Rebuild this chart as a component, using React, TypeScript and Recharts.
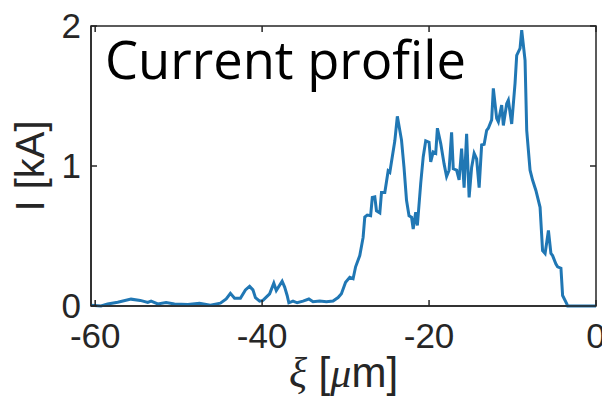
import React from 'react';
import { LineChart, Line, XAxis, YAxis, Label, ReferenceArea, ReferenceLine } from 'recharts';

// longitudinal position xi [um]
const xi = [
  -60.5, -59.3, -58.5, -57.3, -55.7, -54.6, -53.7, -53.3, -52.5, -51.5, -50.5, -48.9, -47.5, -46.2,
  -45.0, -44.3, -43.8, -43.3, -42.6, -42.0, -41.5, -41.1, -40.8, -40.3, -39.9, -39.1, -38.6, -38.3,
  -37.6, -37.3, -37.0, -36.8, -36.3, -35.8, -35.1, -34.4, -33.9, -33.1, -32.3, -31.5, -30.9, -30.5,
  -30.0, -29.5, -29.1, -28.8, -28.3, -27.9, -27.7, -27.4, -27.0, -26.8, -26.5, -26.3, -25.9, -25.7,
  -25.3, -24.9, -24.7, -24.5, -24.1, -23.8, -23.3, -23.0, -22.7, -22.4, -22.1, -21.9, -21.6, -21.4,
  -21.0, -20.7, -20.4, -20.0, -19.8, -19.5, -19.2, -19.0, -18.6, -18.2, -17.9, -17.6, -17.3, -17.1,
  -16.7, -16.4, -16.1, -15.8, -15.5, -15.2, -14.9, -14.6, -14.3, -14.0, -13.7, -13.4, -13.1, -12.9,
  -12.5, -12.3, -11.9, -11.7, -11.3, -11.1, -10.7, -10.5, -10.1, -9.7, -9.5, -9.1, -8.9, -8.5,
  -8.3, -7.9, -7.6, -7.2, -6.7, -6.4, -6.1, -5.9, -5.7, -5.4, -5.2, -4.8, -4.6, -4.2,
  -4.0, -3.5, -3.4, -2.0, 0,
];

// current I [kA]
const current = [
  0.005, 0.0, 0.015, 0.027, 0.049, 0.04, 0.025, 0.035, 0.015, 0.025, 0.015, 0.01, 0.02, 0.005,
  0.02, 0.05, 0.09, 0.055, 0.055, 0.115, 0.14, 0.115, 0.06, 0.035, 0.04, 0.087, 0.163, 0.11,
  0.177, 0.135, 0.075, 0.023, 0.035, 0.023, 0.035, 0.05, 0.03, 0.035, 0.03, 0.035, 0.06, 0.087,
  0.17, 0.205, 0.195, 0.28, 0.36, 0.49, 0.635, 0.65, 0.645, 0.775, 0.78, 0.68, 0.665, 0.81,
  0.81, 0.965, 0.955, 1.03, 1.18, 1.355, 1.185, 0.99, 0.755, 0.645, 0.635, 0.55, 0.67, 0.575,
  0.875, 1.065, 1.18, 1.17, 1.03, 1.1, 1.09, 1.27, 1.16, 1.015, 0.925, 0.97, 1.24, 0.98,
  0.97, 0.9, 1.125, 0.845, 1.23, 0.775, 0.99, 1.09, 1.05, 0.845, 1.15, 1.155, 1.255, 1.27,
  1.33, 1.555, 1.34, 1.315, 1.435, 1.29, 1.445, 1.47, 1.3, 1.59, 1.79, 1.84, 1.97, 1.755,
  1.255, 0.97, 0.9, 0.825, 0.705, 0.395, 0.375, 0.455, 0.54, 0.375, 0.36, 0.3, 0.28, 0.27,
  0.075, 0.015, 0, 0, 0,
];

const xTicks = [-60, -40, -20, 0];
const yTicks = [0, 1, 2];
const xDomain: [number, number] = [-60.5, 0];
const yDomain: [number, number] = [0, 2];

const rows = xi.map((x, i) => ({ xi: x, current: current[i] }));

const AXIS = '#262626';
const tickStyle = { fontFamily: '"Liberation Sans", Arial, sans-serif', fontSize: 35, fill: AXIS };
// inward tick length on the top / right edges, in data units (~6px)
const TICK_X = 0.72;
const TICK_Y = 0.043;

const YLabel = (props: any) => {
  const vb = props.viewBox || { x: 0, y: 26, width: 91, height: 280 };
  const cx = vb.x + 44;
  const cy = vb.y + vb.height / 2;
  return (
    <text x={cx} y={cy} transform={`rotate(-90 ${cx} ${cy})`} textAnchor="middle"
      fontFamily='"Liberation Sans", Arial, sans-serif' fontSize={40} fill={AXIS}>
      I [kA]
    </text>
  );
};

const XLabel = (props: any) => {
  const vb = props.viewBox || { x: 91, y: 306, width: 505, height: 92 };
  return (
    <text x={vb.x + vb.width / 2} y={vb.y + 81} textAnchor="middle"
      fontFamily='"Liberation Sans", Arial, sans-serif' fontSize={42} fill={AXIS}>
      <tspan fontFamily='"Liberation Serif", serif' fontStyle="italic">ξ</tspan>
      {' ['}
      <tspan fontFamily='"Liberation Serif", serif' fontStyle="italic">μ</tspan>
      {'m]'}
    </text>
  );
};

export default function App() {
  return (
    <div style={{ position: 'absolute', left: 0, top: 0, width: 602, height: 398, background: '#fff' }}>
      <LineChart width={602} height={398} data={rows} margin={{ top: 26, right: 6, bottom: 0, left: 0 }}>
        <XAxis dataKey="xi" type="number" domain={xDomain} ticks={xTicks} interval={0}
          allowDataOverflow height={92} tickSize={-6} tickMargin={23}
          stroke={AXIS} strokeWidth={1.5} tick={tickStyle}>
          <Label content={XLabel} />
        </XAxis>
        <YAxis type="number" domain={yDomain} ticks={yTicks} interval={0} width={91}
          tickSize={-6} tickMargin={16} stroke={AXIS} strokeWidth={1.5} tick={tickStyle}>
          <Label content={YLabel} />
        </YAxis>
        {/* box around the axes */}
        <ReferenceArea x1={xDomain[0]} x2={xDomain[1]} y1={yDomain[0]} y2={yDomain[1]}
          fill="none" fillOpacity={0} stroke={AXIS} strokeWidth={1.5} ifOverflow="visible" />
        {xTicks.map((t) => (
          <ReferenceLine key={`tx${t}`} segment={[{ x: t, y: yDomain[1] }, { x: t, y: yDomain[1] - TICK_Y }]}
            stroke={AXIS} strokeWidth={1.5} ifOverflow="visible" />
        ))}
        {yTicks.map((t) => (
          <ReferenceLine key={`ty${t}`} segment={[{ x: xDomain[1], y: t }, { x: xDomain[1] - TICK_X, y: t }]}
            stroke={AXIS} strokeWidth={1.5} ifOverflow="visible" />
        ))}
        <Line type="linear" dataKey="current" stroke="#2077b4" strokeWidth={3} dot={false}
          isAnimationActive={false} />
      </LineChart>
      <div style={{ position: 'absolute', left: 105, top: 80 - 52.5 * 0.888, fontFamily: '"Open Sans", sans-serif',
        fontSize: 52.5, lineHeight: 1, color: '#000', whiteSpace: 'nowrap' }}>
        Current profile
      </div>
    </div>
  );
}
